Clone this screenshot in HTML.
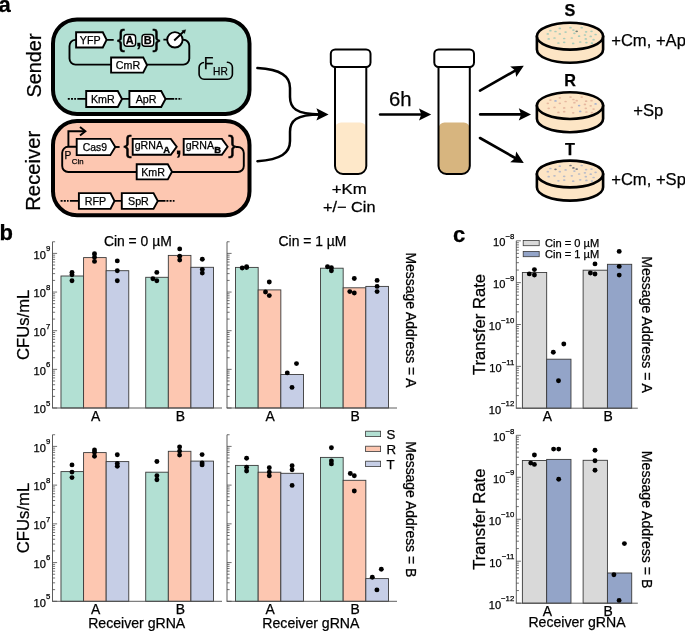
<!DOCTYPE html>
<html><head><meta charset="utf-8"><title>Figure</title>
<style>html,body{margin:0;padding:0;background:#fff}svg{display:block}text{font-family:"Liberation Sans",sans-serif;fill:#000;stroke:#000;stroke-width:.25px}</style>
</head><body>
<svg width="685" height="631" viewBox="0 0 685 631">
<rect width="685" height="631" fill="#fff"/>
<g id="partA">
<text x="-1.5" y="11.5" font-size="22" font-weight="bold">a</text>
<text transform="translate(40.6,97.6) rotate(-90)" font-size="19.9">Sender</text>
<text transform="translate(40.4,210.8) rotate(-90)" font-size="20.3">Receiver</text>
<rect x="53" y="19.4" width="196.5" height="94.5" rx="24" ry="24" fill="#b2e0d3" stroke="#000" stroke-width="4"/>
<rect x="53" y="121.0" width="196.5" height="94.2" rx="24" ry="24" fill="#fdc7b1" stroke="#000" stroke-width="4"/>
<path d="M76,39.9H75.5A6,6 0 0 0 69.5,45.9V58.6A6,6 0 0 0 75.5,64.6H183.3A6,6 0 0 0 189.3,58.6V45.7A6,6 0 0 0 183.3,39.7H182" fill="none" stroke="#000" stroke-width="1.9"/>
<path d="M107,39.9H113.7M163.4,39.6H167.5" stroke="#000" stroke-width="1.9" fill="none"/>
<path d="M76.1,32.25H102.8L106.6,39.85L102.8,47.45H76.1Z" fill="#fff" stroke="#000" stroke-width="1.9" stroke-linejoin="miter"/>
<text x="90.24999999999999" y="43.68" font-size="10.7" text-anchor="middle">YFP</text>
<path d="M111.1,57.45H143.2L147,65.05000000000001L143.2,72.65H111.1Z" fill="#fff" stroke="#000" stroke-width="1.9" stroke-linejoin="miter"/>
<text x="127.94999999999999" y="68.88" font-size="10.7" text-anchor="middle">CmR</text>
<text x="117" y="46.9" font-size="23.5" style="stroke-width:.45px">{</text>
<text x="152.4" y="46.9" font-size="23.5" style="stroke-width:.45px">}</text>
<rect x="123.9" y="34.5" width="11.7" height="11.7" rx="3" fill="#fff" stroke="#000" stroke-width="1.4"/>
<rect x="142.0" y="34.5" width="11.7" height="11.7" rx="3" fill="#fff" stroke="#000" stroke-width="1.4"/>
<text x="129.75" y="44.3" font-size="11" font-weight="bold" text-anchor="middle">A</text>
<text x="147.85" y="44.3" font-size="11" font-weight="bold" text-anchor="middle">B</text>
<text x="136.1" y="46.3" font-size="20" font-weight="bold">,</text>
<circle cx="174.9" cy="39.8" r="7.7" fill="#fff" stroke="#000" stroke-width="1.9"/>
<path d="M174.2,40.5L184,31.3" stroke="#000" stroke-width="1.9" fill="none"/>
<path d="M185.7,29.7L184.6,33.6L181.9,30.7Z" fill="#000" stroke="#000" stroke-width="0.4"/>
<path d="M204,62.5H204.1A5,5 0 0 0 199.1,67.5V74.2A5,5 0 0 0 204.1,79.2H227.4A5,5 0 0 0 232.4,74.2V67.3A5,5 0 0 0 227.4,62.3" fill="none" stroke="#000" stroke-width="1.6" stroke-linecap="round"/>
<text x="203.8" y="68.5" font-size="16">F</text>
<text x="213.1" y="74.5" font-size="10.2">HR</text>
<path d="M67.8,98.9H76" stroke="#000" stroke-width="1.9" stroke-dasharray="2,1.2" fill="none"/>
<path d="M77.3,98.9H86M122,98.9H129M165.5,98.9H174.3" stroke="#000" stroke-width="1.9" fill="none"/>
<path d="M175.2,98.9H182" stroke="#000" stroke-width="1.9" stroke-dasharray="2,1.2" fill="none"/>
<path d="M86.2,91.05H117.8L122,99.05L117.8,107.05H86.2Z" fill="#fff" stroke="#000" stroke-width="1.9" stroke-linejoin="miter"/>
<text x="102.8" y="102.88" font-size="10.7" text-anchor="middle">KmR</text>
<path d="M129.4,91.05H161.2L165.5,99.05L161.2,107.05H129.4Z" fill="#fff" stroke="#000" stroke-width="1.9" stroke-linejoin="miter"/>
<text x="146.10000000000002" y="102.88" font-size="10.7" text-anchor="middle">ApR</text>
<path d="M77,146.8H68.2A6,6 0 0 0 62.2,152.8V166A6,6 0 0 0 68.2,172H237.8A6,6 0 0 0 243.8,166V153A6,6 0 0 0 237.8,147H236" fill="none" stroke="#000" stroke-width="1.9"/>
<path d="M68.4,146.8V131.3H85" fill="none" stroke="#000" stroke-width="1.9"/>
<path d="M80,127L85.4,131.3L80,135.6" fill="none" stroke="#000" stroke-width="1.9"/>
<path d="M115,147H119.6" stroke="#000" stroke-width="1.9"/>
<path d="M76.7,138.85H110.3L115.3,147.0L110.3,155.15H76.7Z" fill="#fff" stroke="#000" stroke-width="1.9" stroke-linejoin="miter"/>
<text x="94.9" y="150.72" font-size="10.4" text-anchor="middle">Cas9</text>
<text x="64.4" y="158.5" font-size="10.2">P</text>
<text x="71.8" y="164.2" font-size="7.8">Cin</text>
<text x="123.5" y="153.1" font-size="24.4" style="stroke-width:.45px">{</text>
<text x="228.3" y="153.1" font-size="24.4" style="stroke-width:.45px">}</text>
<path d="M132.7,138.9H170.8L176.7,146.8L170.8,154.7H132.7Z" fill="#fff" stroke="#000" stroke-width="1.9"/>
<text x="134.7" y="149.2" font-size="10.6">gRNA<tspan font-size="9.4" font-weight="bold" dy="3.3" dx="0.3" style="stroke-width:.4px">A</tspan></text>
<path d="M183.7,138.9H221.9L227.6,146.8L221.9,154.7H183.7Z" fill="#fff" stroke="#000" stroke-width="1.9"/>
<text x="185.7" y="149.2" font-size="10.6">gRNA<tspan font-size="9.4" font-weight="bold" dy="3.3" dx="0.3" style="stroke-width:.4px">B</tspan></text>
<text x="175.4" y="154" font-size="22" font-weight="bold">,</text>
<path d="M136.7,164.25H167.8L172,171.8L167.8,179.35H136.7Z" fill="#fff" stroke="#000" stroke-width="1.9" stroke-linejoin="miter"/>
<text x="153.05" y="175.63" font-size="10.7" text-anchor="middle">KmR</text>
<path d="M60.6,200.9H68.6" stroke="#000" stroke-width="1.9" stroke-dasharray="2,1.2" fill="none"/>
<path d="M69.9,200.9H79M114,200.9H122M158,200.9H165.5" stroke="#000" stroke-width="1.9" fill="none"/>
<path d="M166.4,200.9H174.5" stroke="#000" stroke-width="1.9" stroke-dasharray="2,1.2" fill="none"/>
<path d="M78.9,193.15H110.5L114.5,201.0L110.5,208.85H78.9Z" fill="#fff" stroke="#000" stroke-width="1.9" stroke-linejoin="miter"/>
<text x="95.5" y="204.83" font-size="10.7" text-anchor="middle">RFP</text>
<path d="M121.8,193.15H153.5L157.8,201.0L153.5,208.85H121.8Z" fill="#fff" stroke="#000" stroke-width="1.9" stroke-linejoin="miter"/>
<text x="138.45000000000002" y="204.83" font-size="10.7" text-anchor="middle">SpR</text>
<path d="M257.4,68.1C281,69.5 290,76 290,88V97C290,108 296,114.4 320,114.4" fill="none" stroke="#000" stroke-width="2.5" stroke-linecap="round"/>
<path d="M257.4,161.2C281,159.5 290,153 290,141V132C290,121 296,114.4 320,114.4" fill="none" stroke="#000" stroke-width="2.5" stroke-linecap="round"/>
<path d="M328.6,114.4L316.4,108.3L318.7,114.4L316.4,120.5Z" fill="#000"/>
<path d="M335.0,128.4 a6,6 0 0 1 6,-6 h19.3 a6,6 0 0 1 6,6 V166.0 a8,8 0 0 1 -8,8 h-15.3 a8,8 0 0 1 -8,-8Z" fill="#fee8c9"/>
<path d="M335.0,66.5V166.0a8,8 0 0 0 8,8h15.3a8,8 0 0 0 8,-8V66.5" fill="none" stroke="#000" stroke-width="2"/>
<rect x="330.8" y="49.4" width="39.7" height="17.6" rx="4.4" fill="#fff" stroke="#000" stroke-width="2"/>
<path d="M438.5,128.4 a6,6 0 0 1 6,-6 h19.3 a6,6 0 0 1 6,6 V166.0 a8,8 0 0 1 -8,8 h-15.3 a8,8 0 0 1 -8,-8Z" fill="#d7b57f"/>
<path d="M438.5,66.5V166.0a8,8 0 0 0 8,8h15.3a8,8 0 0 0 8,-8V66.5" fill="none" stroke="#000" stroke-width="2"/>
<rect x="434.3" y="49.4" width="39.7" height="17.6" rx="4.4" fill="#fff" stroke="#000" stroke-width="2"/>
<text transform="translate(349.3,193.7) scale(1.15,1)" font-size="14.6" text-anchor="middle">+Km</text>
<text transform="translate(349.3,212.3) scale(1.115,1)" font-size="14.6" text-anchor="middle">+/− Cin</text>
<text x="388.9" y="105.8" font-size="20.3">6h</text>
<path d="M380.1,114.5H424" stroke="#000" stroke-width="2.6" stroke-linecap="round"/>
<path d="M431.2,114.5L419.0,108.4L421.3,114.5L419.0,120.6Z" fill="#000"/>
<path d="M480,90.6L517,69.6" stroke="#000" stroke-width="2.6" stroke-linecap="round"/>
<path d="M523.8,65.7L510.2,66.4L515.2,70.6L516.2,77.0Z" fill="#000"/>
<path d="M480.2,114.4H524" stroke="#000" stroke-width="2.6" stroke-linecap="round"/>
<path d="M531.0,114.4L518.8,108.3L521.1,114.4L518.8,120.5Z" fill="#000"/>
<path d="M480,138L517,159" stroke="#000" stroke-width="2.6" stroke-linecap="round"/>
<path d="M523.8,162.9L516.2,151.6L515.2,158.0L510.2,162.2Z" fill="#000"/>
<path d="M536.9,36.2V49.400000000000006A33.1,13.4 0 0 0 603.1,49.400000000000006V36.2Z" fill="#fde5c5" stroke="#000" stroke-width="2.6" stroke-linejoin="round"/>
<ellipse cx="570" cy="36.2" rx="33.1" ry="13.4" fill="#fde5c5" stroke="#000" stroke-width="2.6"/>
<ellipse cx="559.8" cy="28.4" rx="1.3" ry="0.85" fill="#a9ccba"/>
<ellipse cx="570.5" cy="27.7" rx="1.3" ry="0.85" fill="#a9ccba"/>
<ellipse cx="581.7" cy="27.7" rx="1.3" ry="0.85" fill="#a9ccba"/>
<ellipse cx="550.4" cy="30.7" rx="1.3" ry="0.85" fill="#a9ccba"/>
<ellipse cx="555.5" cy="31.5" rx="1.3" ry="0.85" fill="#a9ccba"/>
<ellipse cx="565.6" cy="32.1" rx="1.3" ry="0.85" fill="#a9ccba"/>
<ellipse cx="573.4" cy="30.1" rx="1.3" ry="0.85" fill="#a9ccba"/>
<ellipse cx="576.7" cy="31.3" rx="1.3" ry="0.85" fill="#6f8079"/>
<ellipse cx="586.1" cy="31.8" rx="1.3" ry="0.85" fill="#a9ccba"/>
<ellipse cx="591.5" cy="31.3" rx="1.3" ry="0.85" fill="#a9ccba"/>
<ellipse cx="547.8" cy="33.9" rx="1.3" ry="0.85" fill="#a9ccba"/>
<ellipse cx="559.8" cy="33.9" rx="1.3" ry="0.85" fill="#a9ccba"/>
<ellipse cx="574.4" cy="33.3" rx="1.3" ry="0.85" fill="#a9ccba"/>
<ellipse cx="579.1" cy="36.2" rx="1.3" ry="0.85" fill="#a9ccba"/>
<ellipse cx="584.9" cy="35.0" rx="1.3" ry="0.85" fill="#a9ccba"/>
<ellipse cx="590.7" cy="36.4" rx="1.3" ry="0.85" fill="#a9ccba"/>
<ellipse cx="595.6" cy="34.5" rx="1.3" ry="0.85" fill="#a9ccba"/>
<ellipse cx="548.7" cy="38.9" rx="1.3" ry="0.85" fill="#a9ccba"/>
<ellipse cx="554.5" cy="38.0" rx="1.3" ry="0.85" fill="#a9ccba"/>
<ellipse cx="564.2" cy="38.5" rx="1.3" ry="0.85" fill="#a9ccba"/>
<ellipse cx="571.8" cy="38.0" rx="1.3" ry="0.85" fill="#a9ccba"/>
<ellipse cx="585.8" cy="38.9" rx="1.3" ry="0.85" fill="#a9ccba"/>
<ellipse cx="593.6" cy="39.7" rx="1.3" ry="0.85" fill="#a9ccba"/>
<ellipse cx="558.4" cy="43.0" rx="1.3" ry="0.85" fill="#a9ccba"/>
<ellipse cx="564.2" cy="42.3" rx="1.3" ry="0.85" fill="#a9ccba"/>
<ellipse cx="573.2" cy="43.4" rx="1.3" ry="0.85" fill="#a9ccba"/>
<ellipse cx="580.2" cy="42.0" rx="1.3" ry="0.85" fill="#a9ccba"/>
<ellipse cx="586.4" cy="42.6" rx="1.3" ry="0.85" fill="#a9ccba"/>
<ellipse cx="591.9" cy="43.2" rx="1.3" ry="0.85" fill="#a9ccba"/>
<text x="570" y="16.3" font-size="16.2" font-weight="bold" text-anchor="middle">S</text>
<path d="M536.9,105.6V118.8A33.1,13.4 0 0 0 603.1,118.8V105.6Z" fill="#fde5c5" stroke="#000" stroke-width="2.6" stroke-linejoin="round"/>
<ellipse cx="570" cy="105.6" rx="33.1" ry="13.4" fill="#fde5c5" stroke="#000" stroke-width="2.6"/>
<ellipse cx="559.8" cy="97.8" rx="1.3" ry="0.85" fill="#e6b8a0"/>
<ellipse cx="570.5" cy="97.1" rx="1.3" ry="0.85" fill="#e6b8a0"/>
<ellipse cx="581.7" cy="97.1" rx="1.3" ry="0.85" fill="#e6b8a0"/>
<ellipse cx="550.4" cy="100.1" rx="1.3" ry="0.85" fill="#e6b8a0"/>
<ellipse cx="555.5" cy="100.9" rx="1.3" ry="0.85" fill="#a8b2cf"/>
<ellipse cx="565.6" cy="101.5" rx="1.3" ry="0.85" fill="#e6b8a0"/>
<ellipse cx="573.4" cy="99.5" rx="1.3" ry="0.85" fill="#e6b8a0"/>
<ellipse cx="576.7" cy="100.7" rx="1.3" ry="0.85" fill="#e6b8a0"/>
<ellipse cx="586.1" cy="101.2" rx="1.3" ry="0.85" fill="#e6b8a0"/>
<ellipse cx="591.5" cy="100.7" rx="1.3" ry="0.85" fill="#e6b8a0"/>
<ellipse cx="547.8" cy="103.3" rx="1.3" ry="0.85" fill="#e6b8a0"/>
<ellipse cx="559.8" cy="103.3" rx="1.3" ry="0.85" fill="#e6b8a0"/>
<ellipse cx="574.4" cy="102.7" rx="1.3" ry="0.85" fill="#e6b8a0"/>
<ellipse cx="579.1" cy="105.6" rx="1.3" ry="0.85" fill="#a8b2cf"/>
<ellipse cx="584.9" cy="104.4" rx="1.3" ry="0.85" fill="#e6b8a0"/>
<ellipse cx="590.7" cy="105.8" rx="1.3" ry="0.85" fill="#e6b8a0"/>
<ellipse cx="595.6" cy="103.9" rx="1.3" ry="0.85" fill="#a8b2cf"/>
<ellipse cx="548.7" cy="108.3" rx="1.3" ry="0.85" fill="#e6b8a0"/>
<ellipse cx="554.5" cy="107.4" rx="1.3" ry="0.85" fill="#e6b8a0"/>
<ellipse cx="564.2" cy="107.9" rx="1.3" ry="0.85" fill="#e6b8a0"/>
<ellipse cx="571.8" cy="107.4" rx="1.3" ry="0.85" fill="#e6b8a0"/>
<ellipse cx="585.8" cy="108.3" rx="1.3" ry="0.85" fill="#e6b8a0"/>
<ellipse cx="593.6" cy="109.1" rx="1.3" ry="0.85" fill="#e6b8a0"/>
<ellipse cx="558.4" cy="112.4" rx="1.3" ry="0.85" fill="#e6b8a0"/>
<ellipse cx="564.2" cy="111.7" rx="1.3" ry="0.85" fill="#e6b8a0"/>
<ellipse cx="573.2" cy="112.8" rx="1.3" ry="0.85" fill="#e6b8a0"/>
<ellipse cx="580.2" cy="111.4" rx="1.3" ry="0.85" fill="#a8b2cf"/>
<ellipse cx="586.4" cy="112.0" rx="1.3" ry="0.85" fill="#e6b8a0"/>
<ellipse cx="591.9" cy="112.6" rx="1.3" ry="0.85" fill="#e6b8a0"/>
<text x="570" y="85.7" font-size="16.2" font-weight="bold" text-anchor="middle">R</text>
<path d="M536.9,174V187.2A33.1,13.4 0 0 0 603.1,187.2V174Z" fill="#fde5c5" stroke="#000" stroke-width="2.6" stroke-linejoin="round"/>
<ellipse cx="570" cy="174" rx="33.1" ry="13.4" fill="#fde5c5" stroke="#000" stroke-width="2.6"/>
<ellipse cx="559.8" cy="166.2" rx="1.3" ry="0.85" fill="#b8bbc9"/>
<ellipse cx="570.5" cy="165.5" rx="1.3" ry="0.85" fill="#77787f"/>
<ellipse cx="581.7" cy="165.5" rx="1.3" ry="0.85" fill="#b8bbc9"/>
<ellipse cx="550.4" cy="168.5" rx="1.3" ry="0.85" fill="#b8bbc9"/>
<ellipse cx="555.5" cy="169.3" rx="1.3" ry="0.85" fill="#77787f"/>
<ellipse cx="565.6" cy="169.9" rx="1.3" ry="0.85" fill="#b8bbc9"/>
<ellipse cx="573.4" cy="167.9" rx="1.3" ry="0.85" fill="#77787f"/>
<ellipse cx="576.7" cy="169.1" rx="1.3" ry="0.85" fill="#77787f"/>
<ellipse cx="586.1" cy="169.6" rx="1.3" ry="0.85" fill="#b8bbc9"/>
<ellipse cx="591.5" cy="169.1" rx="1.3" ry="0.85" fill="#b8bbc9"/>
<ellipse cx="547.8" cy="171.7" rx="1.3" ry="0.85" fill="#b8bbc9"/>
<ellipse cx="559.8" cy="171.7" rx="1.3" ry="0.85" fill="#b8bbc9"/>
<ellipse cx="574.4" cy="171.1" rx="1.3" ry="0.85" fill="#b8bbc9"/>
<ellipse cx="579.1" cy="174.0" rx="1.3" ry="0.85" fill="#b8bbc9"/>
<ellipse cx="584.9" cy="172.8" rx="1.3" ry="0.85" fill="#b8bbc9"/>
<ellipse cx="590.7" cy="174.2" rx="1.3" ry="0.85" fill="#b8bbc9"/>
<ellipse cx="595.6" cy="172.3" rx="1.3" ry="0.85" fill="#b8bbc9"/>
<ellipse cx="548.7" cy="176.7" rx="1.3" ry="0.85" fill="#b8bbc9"/>
<ellipse cx="554.5" cy="175.8" rx="1.3" ry="0.85" fill="#b8bbc9"/>
<ellipse cx="564.2" cy="176.3" rx="1.3" ry="0.85" fill="#b8bbc9"/>
<ellipse cx="571.8" cy="175.8" rx="1.3" ry="0.85" fill="#b8bbc9"/>
<ellipse cx="585.8" cy="176.7" rx="1.3" ry="0.85" fill="#b8bbc9"/>
<ellipse cx="593.6" cy="177.5" rx="1.3" ry="0.85" fill="#b8bbc9"/>
<ellipse cx="558.4" cy="180.8" rx="1.3" ry="0.85" fill="#b8bbc9"/>
<ellipse cx="564.2" cy="180.1" rx="1.3" ry="0.85" fill="#b8bbc9"/>
<ellipse cx="573.2" cy="181.2" rx="1.3" ry="0.85" fill="#b8bbc9"/>
<ellipse cx="580.2" cy="179.8" rx="1.3" ry="0.85" fill="#b8bbc9"/>
<ellipse cx="586.4" cy="180.4" rx="1.3" ry="0.85" fill="#b8bbc9"/>
<ellipse cx="591.9" cy="181.0" rx="1.3" ry="0.85" fill="#b8bbc9"/>
<text x="570" y="154.5" font-size="16.2" font-weight="bold" text-anchor="middle">T</text>
<text x="611.2" y="45.9" font-size="16.6">+Cm, +Ap</text>
<text x="633.2" y="116.3" font-size="16.6">+Sp</text>
<text x="611.2" y="185.3" font-size="16.6">+Cm, +Sp</text>
</g>
<g id="partB">
<text x="-0.5" y="239.5" font-size="22" font-weight="bold">b</text>
<rect x="60.98" y="276.00" width="22.60" height="132.00" fill="#b2e0d3" stroke="#3a3a3a" stroke-width="0.9"/>
<rect x="83.58" y="257.60" width="22.60" height="150.40" fill="#fdc7b1" stroke="#3a3a3a" stroke-width="0.9"/>
<rect x="106.17" y="270.70" width="22.60" height="137.30" fill="#c6cee6" stroke="#3a3a3a" stroke-width="0.9"/>
<rect x="145.72" y="277.30" width="22.60" height="130.70" fill="#b2e0d3" stroke="#3a3a3a" stroke-width="0.9"/>
<rect x="168.32" y="255.40" width="22.60" height="152.60" fill="#fdc7b1" stroke="#3a3a3a" stroke-width="0.9"/>
<rect x="190.92" y="267.30" width="22.60" height="140.70" fill="#c6cee6" stroke="#3a3a3a" stroke-width="0.9"/>
<circle cx="72.0" cy="272.5" r="2.45" fill="#000"/>
<circle cx="72.0" cy="274.8" r="2.45" fill="#000"/>
<circle cx="72.0" cy="280.7" r="2.45" fill="#000"/>
<circle cx="94.5" cy="253.8" r="2.45" fill="#000"/>
<circle cx="94.5" cy="257.3" r="2.45" fill="#000"/>
<circle cx="94.5" cy="261.4" r="2.45" fill="#000"/>
<circle cx="117.3" cy="260.9" r="2.45" fill="#000"/>
<circle cx="117.3" cy="270.7" r="2.45" fill="#000"/>
<circle cx="117.3" cy="280.7" r="2.45" fill="#000"/>
<circle cx="156.8" cy="272.4" r="2.45" fill="#000"/>
<circle cx="152.9" cy="278.7" r="2.45" fill="#000"/>
<circle cx="156.8" cy="280.8" r="2.45" fill="#000"/>
<circle cx="179.7" cy="248.9" r="2.45" fill="#000"/>
<circle cx="179.7" cy="256.3" r="2.45" fill="#000"/>
<circle cx="179.7" cy="260.1" r="2.45" fill="#000"/>
<circle cx="202.3" cy="259.2" r="2.45" fill="#000"/>
<circle cx="202.3" cy="269.4" r="2.45" fill="#000"/>
<circle cx="202.3" cy="273.1" r="2.45" fill="#000"/>
<path d="M52.05,408.0H222.0" stroke="#4d4d4d" stroke-width="0.9" fill="none"/>
<path d="M52.5,241.77V408.00" stroke="#4d4d4d" stroke-width="0.9" fill="none"/>
<path d="M52.5,408.00h4.6M52.5,396.37h2.6M52.5,389.56h2.6M52.5,384.73h2.6M52.5,380.98h2.6M52.5,377.92h2.6M52.5,375.34h2.6M52.5,373.10h2.6M52.5,371.12h2.6M52.5,369.35h4.6M52.5,357.72h2.6M52.5,350.91h2.6M52.5,346.08h2.6M52.5,342.33h2.6M52.5,339.27h2.6M52.5,336.69h2.6M52.5,334.45h2.6M52.5,332.47h2.6M52.5,330.70h4.6M52.5,319.07h2.6M52.5,312.26h2.6M52.5,307.43h2.6M52.5,303.68h2.6M52.5,300.62h2.6M52.5,298.04h2.6M52.5,295.80h2.6M52.5,293.82h2.6M52.5,292.05h4.6M52.5,280.42h2.6M52.5,273.61h2.6M52.5,268.78h2.6M52.5,265.03h2.6M52.5,261.97h2.6M52.5,259.39h2.6M52.5,257.15h2.6M52.5,255.17h2.6M52.5,253.40h4.6M52.5,241.77h2.6" stroke="#4d4d4d" stroke-width="0.8" fill="none"/>
<text x="50.3" y="413.30" font-size="11.1" text-anchor="end">10<tspan font-size="7.8" dy="-7.4">5</tspan></text>
<text x="50.3" y="374.65" font-size="11.1" text-anchor="end">10<tspan font-size="7.8" dy="-7.4">6</tspan></text>
<text x="50.3" y="336.00" font-size="11.1" text-anchor="end">10<tspan font-size="7.8" dy="-7.4">7</tspan></text>
<text x="50.3" y="297.35" font-size="11.1" text-anchor="end">10<tspan font-size="7.8" dy="-7.4">8</tspan></text>
<text x="50.3" y="258.70" font-size="11.1" text-anchor="end">10<tspan font-size="7.8" dy="-7.4">9</tspan></text>
<text x="95.6" y="421.0" font-size="13.9" text-anchor="middle">A</text>
<text x="180.3" y="421.0" font-size="13.9" text-anchor="middle">B</text>
<text x="137.8" y="246.4" font-size="13.9" text-anchor="middle">Cin = 0 µM</text>
<rect x="235.50" y="267.40" width="22.67" height="140.60" fill="#b2e0d3" stroke="#3a3a3a" stroke-width="0.9"/>
<rect x="258.17" y="289.90" width="22.67" height="118.10" fill="#fdc7b1" stroke="#3a3a3a" stroke-width="0.9"/>
<rect x="280.83" y="374.50" width="22.67" height="33.50" fill="#c6cee6" stroke="#3a3a3a" stroke-width="0.9"/>
<rect x="320.50" y="268.20" width="22.67" height="139.80" fill="#b2e0d3" stroke="#3a3a3a" stroke-width="0.9"/>
<rect x="343.17" y="287.80" width="22.67" height="120.20" fill="#fdc7b1" stroke="#3a3a3a" stroke-width="0.9"/>
<rect x="365.83" y="286.40" width="22.67" height="121.60" fill="#c6cee6" stroke="#3a3a3a" stroke-width="0.9"/>
<circle cx="242.2" cy="268.0" r="2.45" fill="#000"/>
<circle cx="246.6" cy="266.8" r="2.45" fill="#000"/>
<circle cx="246.6" cy="267.6" r="2.45" fill="#000"/>
<circle cx="269.3" cy="282.0" r="2.45" fill="#000"/>
<circle cx="265.5" cy="292.0" r="2.45" fill="#000"/>
<circle cx="269.3" cy="295.6" r="2.45" fill="#000"/>
<circle cx="296.5" cy="363.6" r="2.45" fill="#000"/>
<circle cx="287.3" cy="372.9" r="2.45" fill="#000"/>
<circle cx="292.0" cy="387.4" r="2.45" fill="#000"/>
<circle cx="327.5" cy="266.8" r="2.45" fill="#000"/>
<circle cx="331.4" cy="267.7" r="2.45" fill="#000"/>
<circle cx="331.4" cy="270.8" r="2.45" fill="#000"/>
<circle cx="354.3" cy="278.5" r="2.45" fill="#000"/>
<circle cx="349.8" cy="291.6" r="2.45" fill="#000"/>
<circle cx="354.3" cy="293.0" r="2.45" fill="#000"/>
<circle cx="377.1" cy="280.4" r="2.45" fill="#000"/>
<circle cx="377.1" cy="286.4" r="2.45" fill="#000"/>
<circle cx="377.1" cy="291.6" r="2.45" fill="#000"/>
<path d="M226.55,408.0H397.0" stroke="#4d4d4d" stroke-width="0.9" fill="none"/>
<path d="M227.0,241.77V408.00" stroke="#4d4d4d" stroke-width="0.9" fill="none"/>
<path d="M227.0,408.00h4.6M227.0,396.37h2.6M227.0,389.56h2.6M227.0,384.73h2.6M227.0,380.98h2.6M227.0,377.92h2.6M227.0,375.34h2.6M227.0,373.10h2.6M227.0,371.12h2.6M227.0,369.35h4.6M227.0,357.72h2.6M227.0,350.91h2.6M227.0,346.08h2.6M227.0,342.33h2.6M227.0,339.27h2.6M227.0,336.69h2.6M227.0,334.45h2.6M227.0,332.47h2.6M227.0,330.70h4.6M227.0,319.07h2.6M227.0,312.26h2.6M227.0,307.43h2.6M227.0,303.68h2.6M227.0,300.62h2.6M227.0,298.04h2.6M227.0,295.80h2.6M227.0,293.82h2.6M227.0,292.05h4.6M227.0,280.42h2.6M227.0,273.61h2.6M227.0,268.78h2.6M227.0,265.03h2.6M227.0,261.97h2.6M227.0,259.39h2.6M227.0,257.15h2.6M227.0,255.17h2.6M227.0,253.40h4.6M227.0,241.77h2.6" stroke="#4d4d4d" stroke-width="0.8" fill="none"/>
<text x="270.2" y="421.0" font-size="13.9" text-anchor="middle">A</text>
<text x="355.2" y="421.0" font-size="13.9" text-anchor="middle">B</text>
<text x="312.5" y="246.4" font-size="13.9" text-anchor="middle">Cin = 1 µM</text>
<text transform="translate(29.2,324.9) rotate(-90)" font-size="16.67" text-anchor="middle">CFUs/mL</text>
<rect x="60.98" y="471.60" width="22.60" height="129.70" fill="#b2e0d3" stroke="#3a3a3a" stroke-width="0.9"/>
<rect x="83.58" y="452.60" width="22.60" height="148.70" fill="#fdc7b1" stroke="#3a3a3a" stroke-width="0.9"/>
<rect x="106.17" y="461.60" width="22.60" height="139.70" fill="#c6cee6" stroke="#3a3a3a" stroke-width="0.9"/>
<rect x="145.72" y="472.20" width="22.60" height="129.10" fill="#b2e0d3" stroke="#3a3a3a" stroke-width="0.9"/>
<rect x="168.32" y="451.30" width="22.60" height="150.00" fill="#fdc7b1" stroke="#3a3a3a" stroke-width="0.9"/>
<rect x="190.92" y="461.10" width="22.60" height="140.20" fill="#c6cee6" stroke="#3a3a3a" stroke-width="0.9"/>
<circle cx="72.0" cy="464.9" r="2.45" fill="#000"/>
<circle cx="72.0" cy="472.1" r="2.45" fill="#000"/>
<circle cx="72.0" cy="477.6" r="2.45" fill="#000"/>
<circle cx="94.5" cy="450.0" r="2.45" fill="#000"/>
<circle cx="94.5" cy="452.3" r="2.45" fill="#000"/>
<circle cx="94.5" cy="456.2" r="2.45" fill="#000"/>
<circle cx="117.3" cy="454.8" r="2.45" fill="#000"/>
<circle cx="117.3" cy="463.5" r="2.45" fill="#000"/>
<circle cx="117.3" cy="466.2" r="2.45" fill="#000"/>
<circle cx="156.9" cy="461.5" r="2.45" fill="#000"/>
<circle cx="156.9" cy="475.7" r="2.45" fill="#000"/>
<circle cx="156.9" cy="479.7" r="2.45" fill="#000"/>
<circle cx="179.6" cy="446.9" r="2.45" fill="#000"/>
<circle cx="179.6" cy="451.1" r="2.45" fill="#000"/>
<circle cx="179.6" cy="455.1" r="2.45" fill="#000"/>
<circle cx="202.1" cy="454.6" r="2.45" fill="#000"/>
<circle cx="202.1" cy="463.0" r="2.45" fill="#000"/>
<circle cx="202.1" cy="464.9" r="2.45" fill="#000"/>
<path d="M52.05,601.3H222.0" stroke="#4d4d4d" stroke-width="0.9" fill="none"/>
<path d="M52.5,434.74V601.30" stroke="#4d4d4d" stroke-width="0.9" fill="none"/>
<path d="M52.5,601.30h4.6M52.5,589.64h2.6M52.5,582.82h2.6M52.5,577.99h2.6M52.5,574.23h2.6M52.5,571.17h2.6M52.5,568.57h2.6M52.5,566.33h2.6M52.5,564.35h2.6M52.5,562.57h4.6M52.5,550.92h2.6M52.5,544.10h2.6M52.5,539.26h2.6M52.5,535.51h2.6M52.5,532.44h2.6M52.5,529.85h2.6M52.5,527.60h2.6M52.5,525.62h2.6M52.5,523.85h4.6M52.5,512.19h2.6M52.5,505.37h2.6M52.5,500.54h2.6M52.5,496.78h2.6M52.5,493.72h2.6M52.5,491.12h2.6M52.5,488.88h2.6M52.5,486.90h2.6M52.5,485.12h4.6M52.5,473.47h2.6M52.5,466.65h2.6M52.5,461.81h2.6M52.5,458.06h2.6M52.5,454.99h2.6M52.5,452.40h2.6M52.5,450.15h2.6M52.5,448.17h2.6M52.5,446.40h4.6M52.5,434.74h2.6" stroke="#4d4d4d" stroke-width="0.8" fill="none"/>
<text x="50.3" y="606.60" font-size="11.1" text-anchor="end">10<tspan font-size="7.8" dy="-7.4">5</tspan></text>
<text x="50.3" y="567.87" font-size="11.1" text-anchor="end">10<tspan font-size="7.8" dy="-7.4">6</tspan></text>
<text x="50.3" y="529.15" font-size="11.1" text-anchor="end">10<tspan font-size="7.8" dy="-7.4">7</tspan></text>
<text x="50.3" y="490.43" font-size="11.1" text-anchor="end">10<tspan font-size="7.8" dy="-7.4">8</tspan></text>
<text x="50.3" y="451.70" font-size="11.1" text-anchor="end">10<tspan font-size="7.8" dy="-7.4">9</tspan></text>
<text x="95.6" y="614.3" font-size="13.9" text-anchor="middle">A</text>
<text x="180.3" y="614.3" font-size="13.9" text-anchor="middle">B</text>
<text x="136.7" y="628" font-size="14.1" text-anchor="middle">Receiver gRNA</text>
<rect x="235.50" y="465.40" width="22.67" height="135.90" fill="#b2e0d3" stroke="#3a3a3a" stroke-width="0.9"/>
<rect x="258.17" y="472.20" width="22.67" height="129.10" fill="#fdc7b1" stroke="#3a3a3a" stroke-width="0.9"/>
<rect x="280.83" y="473.30" width="22.67" height="128.00" fill="#c6cee6" stroke="#3a3a3a" stroke-width="0.9"/>
<rect x="320.50" y="457.40" width="22.67" height="143.90" fill="#b2e0d3" stroke="#3a3a3a" stroke-width="0.9"/>
<rect x="343.17" y="480.30" width="22.67" height="121.00" fill="#fdc7b1" stroke="#3a3a3a" stroke-width="0.9"/>
<rect x="365.83" y="578.60" width="22.67" height="22.70" fill="#c6cee6" stroke="#3a3a3a" stroke-width="0.9"/>
<circle cx="246.6" cy="458.3" r="2.45" fill="#000"/>
<circle cx="246.6" cy="467.2" r="2.45" fill="#000"/>
<circle cx="246.6" cy="471.0" r="2.45" fill="#000"/>
<circle cx="269.3" cy="467.8" r="2.45" fill="#000"/>
<circle cx="269.3" cy="472.1" r="2.45" fill="#000"/>
<circle cx="269.3" cy="475.7" r="2.45" fill="#000"/>
<circle cx="292.1" cy="465.7" r="2.45" fill="#000"/>
<circle cx="292.1" cy="469.7" r="2.45" fill="#000"/>
<circle cx="292.1" cy="485.4" r="2.45" fill="#000"/>
<circle cx="331.4" cy="447.8" r="2.45" fill="#000"/>
<circle cx="331.4" cy="460.9" r="2.45" fill="#000"/>
<circle cx="331.4" cy="463.9" r="2.45" fill="#000"/>
<circle cx="350.3" cy="473.5" r="2.45" fill="#000"/>
<circle cx="354.3" cy="475.8" r="2.45" fill="#000"/>
<circle cx="354.3" cy="491.0" r="2.45" fill="#000"/>
<circle cx="381.3" cy="569.3" r="2.45" fill="#000"/>
<circle cx="372.3" cy="577.2" r="2.45" fill="#000"/>
<circle cx="376.9" cy="589.9" r="2.45" fill="#000"/>
<path d="M226.55,601.3H397.0" stroke="#4d4d4d" stroke-width="0.9" fill="none"/>
<path d="M227.0,434.74V601.30" stroke="#4d4d4d" stroke-width="0.9" fill="none"/>
<path d="M227.0,601.30h4.6M227.0,589.64h2.6M227.0,582.82h2.6M227.0,577.99h2.6M227.0,574.23h2.6M227.0,571.17h2.6M227.0,568.57h2.6M227.0,566.33h2.6M227.0,564.35h2.6M227.0,562.57h4.6M227.0,550.92h2.6M227.0,544.10h2.6M227.0,539.26h2.6M227.0,535.51h2.6M227.0,532.44h2.6M227.0,529.85h2.6M227.0,527.60h2.6M227.0,525.62h2.6M227.0,523.85h4.6M227.0,512.19h2.6M227.0,505.37h2.6M227.0,500.54h2.6M227.0,496.78h2.6M227.0,493.72h2.6M227.0,491.12h2.6M227.0,488.88h2.6M227.0,486.90h2.6M227.0,485.12h4.6M227.0,473.47h2.6M227.0,466.65h2.6M227.0,461.81h2.6M227.0,458.06h2.6M227.0,454.99h2.6M227.0,452.40h2.6M227.0,450.15h2.6M227.0,448.17h2.6M227.0,446.40h4.6M227.0,434.74h2.6" stroke="#4d4d4d" stroke-width="0.8" fill="none"/>
<text x="270.2" y="614.3" font-size="13.9" text-anchor="middle">A</text>
<text x="355.2" y="614.3" font-size="13.9" text-anchor="middle">B</text>
<text x="310.9" y="628" font-size="14.1" text-anchor="middle">Receiver gRNA</text>
<text transform="translate(29.2,518.0) rotate(-90)" font-size="16.67" text-anchor="middle">CFUs/mL</text>
<text transform="translate(406.2,252.4) rotate(90)" font-size="13.95">Message Address = A</text>
<text transform="translate(406.2,441.3) rotate(90)" font-size="13.95">Message Address = B</text>
<rect x="365.6" y="431.2" width="15" height="5.4" fill="#b2e0d3" stroke="#3a3a3a" stroke-width="0.8"/>
<text x="386.6" y="438.7" font-size="13.3">S</text>
<rect x="365.6" y="446.2" width="15" height="5.4" fill="#fdc7b1" stroke="#3a3a3a" stroke-width="0.8"/>
<text x="386.6" y="453.7" font-size="13.3">R</text>
<rect x="365.6" y="461.2" width="15" height="5.4" fill="#c6cee6" stroke="#3a3a3a" stroke-width="0.8"/>
<text x="386.6" y="468.7" font-size="13.3">T</text>
</g>
<g id="partC">
<text x="453.1" y="242.1" font-size="22" font-weight="bold">c</text>
<rect x="522.38" y="272.50" width="24.30" height="135.70" fill="#d9d9d9" stroke="#3a3a3a" stroke-width="0.9"/>
<rect x="546.67" y="359.20" width="24.30" height="49.00" fill="#93a4c8" stroke="#3a3a3a" stroke-width="0.9"/>
<rect x="583.12" y="270.20" width="24.30" height="138.00" fill="#d9d9d9" stroke="#3a3a3a" stroke-width="0.9"/>
<rect x="607.42" y="264.30" width="24.30" height="143.90" fill="#93a4c8" stroke="#3a3a3a" stroke-width="0.9"/>
<circle cx="529.3" cy="273.9" r="2.45" fill="#000"/>
<circle cx="534.4" cy="269.6" r="2.45" fill="#000"/>
<circle cx="534.4" cy="275.0" r="2.45" fill="#000"/>
<circle cx="563.8" cy="344.0" r="2.45" fill="#000"/>
<circle cx="553.3" cy="352.2" r="2.45" fill="#000"/>
<circle cx="558.5" cy="380.8" r="2.45" fill="#000"/>
<circle cx="595.0" cy="263.9" r="2.45" fill="#000"/>
<circle cx="590.4" cy="273.0" r="2.45" fill="#000"/>
<circle cx="595.0" cy="274.0" r="2.45" fill="#000"/>
<circle cx="619.2" cy="251.4" r="2.45" fill="#000"/>
<circle cx="619.2" cy="266.4" r="2.45" fill="#000"/>
<circle cx="619.2" cy="275.1" r="2.45" fill="#000"/>
<path d="M515.8499999999999,408.2H637.8" stroke="#4d4d4d" stroke-width="0.9" fill="none"/>
<path d="M516.3,240.80V408.20" stroke="#4d4d4d" stroke-width="0.9" fill="none"/>
<path d="M516.3,408.20h4.6M516.3,395.60h2.6M516.3,388.23h2.6M516.3,383.00h2.6M516.3,378.95h2.6M516.3,375.63h2.6M516.3,372.83h2.6M516.3,370.41h2.6M516.3,368.26h2.6M516.3,366.35h4.6M516.3,353.75h2.6M516.3,346.38h2.6M516.3,341.15h2.6M516.3,337.10h2.6M516.3,333.78h2.6M516.3,330.98h2.6M516.3,328.56h2.6M516.3,326.41h2.6M516.3,324.50h4.6M516.3,311.90h2.6M516.3,304.53h2.6M516.3,299.30h2.6M516.3,295.25h2.6M516.3,291.93h2.6M516.3,289.13h2.6M516.3,286.71h2.6M516.3,284.56h2.6M516.3,282.65h4.6M516.3,270.05h2.6M516.3,262.68h2.6M516.3,257.45h2.6M516.3,253.40h2.6M516.3,250.08h2.6M516.3,247.28h2.6M516.3,244.86h2.6M516.3,242.71h2.6M516.3,240.80h4.6" stroke="#4d4d4d" stroke-width="0.8" fill="none"/>
<text x="514.3" y="413.80" font-size="11.1" text-anchor="end">10<tspan font-size="7.8" dy="-7.4">−12</tspan></text>
<text x="514.3" y="371.95" font-size="11.1" text-anchor="end">10<tspan font-size="7.8" dy="-7.4">−11</tspan></text>
<text x="514.3" y="330.10" font-size="11.1" text-anchor="end">10<tspan font-size="7.8" dy="-7.4">−10</tspan></text>
<text x="514.3" y="288.25" font-size="11.1" text-anchor="end">10<tspan font-size="7.8" dy="-7.4">−9</tspan></text>
<text x="514.3" y="246.40" font-size="11.1" text-anchor="end">10<tspan font-size="7.8" dy="-7.4">−8</tspan></text>
<text x="547.4" y="420.7" font-size="13.9" text-anchor="middle">A</text>
<text x="608.1" y="420.7" font-size="13.9" text-anchor="middle">B</text>
<text transform="translate(484.5,324.5) rotate(-90)" font-size="16.67" text-anchor="middle">Transfer Rate</text>
<rect x="522.38" y="460.50" width="24.30" height="142.70" fill="#d9d9d9" stroke="#3a3a3a" stroke-width="0.9"/>
<rect x="546.67" y="459.40" width="24.30" height="143.80" fill="#93a4c8" stroke="#3a3a3a" stroke-width="0.9"/>
<rect x="583.12" y="460.30" width="24.30" height="142.90" fill="#d9d9d9" stroke="#3a3a3a" stroke-width="0.9"/>
<rect x="607.42" y="573.00" width="24.30" height="30.20" fill="#93a4c8" stroke="#3a3a3a" stroke-width="0.9"/>
<circle cx="534.4" cy="455.0" r="2.45" fill="#000"/>
<circle cx="530.7" cy="463.1" r="2.45" fill="#000"/>
<circle cx="534.4" cy="464.4" r="2.45" fill="#000"/>
<circle cx="553.6" cy="449.1" r="2.45" fill="#000"/>
<circle cx="558.7" cy="449.1" r="2.45" fill="#000"/>
<circle cx="558.7" cy="479.3" r="2.45" fill="#000"/>
<circle cx="595.0" cy="450.2" r="2.45" fill="#000"/>
<circle cx="595.0" cy="460.7" r="2.45" fill="#000"/>
<circle cx="595.0" cy="470.3" r="2.45" fill="#000"/>
<circle cx="624.4" cy="543.6" r="2.45" fill="#000"/>
<circle cx="613.9" cy="574.7" r="2.45" fill="#000"/>
<circle cx="619.1" cy="600.4" r="2.45" fill="#000"/>
<path d="M515.8499999999999,603.2H637.8" stroke="#4d4d4d" stroke-width="0.9" fill="none"/>
<path d="M516.3,435.30V603.20" stroke="#4d4d4d" stroke-width="0.9" fill="none"/>
<path d="M516.3,603.20h4.6M516.3,590.56h2.6M516.3,583.17h2.6M516.3,577.93h2.6M516.3,573.86h2.6M516.3,570.54h2.6M516.3,567.73h2.6M516.3,565.29h2.6M516.3,563.15h2.6M516.3,561.23h4.6M516.3,548.59h2.6M516.3,541.20h2.6M516.3,535.95h2.6M516.3,531.89h2.6M516.3,528.56h2.6M516.3,525.75h2.6M516.3,523.32h2.6M516.3,521.17h2.6M516.3,519.25h4.6M516.3,506.61h2.6M516.3,499.22h2.6M516.3,493.98h2.6M516.3,489.91h2.6M516.3,486.59h2.6M516.3,483.78h2.6M516.3,481.34h2.6M516.3,479.20h2.6M516.3,477.28h4.6M516.3,464.64h2.6M516.3,457.25h2.6M516.3,452.00h2.6M516.3,447.94h2.6M516.3,444.61h2.6M516.3,441.80h2.6M516.3,439.37h2.6M516.3,437.22h2.6M516.3,435.30h4.6" stroke="#4d4d4d" stroke-width="0.8" fill="none"/>
<text x="514.3" y="608.80" font-size="11.1" text-anchor="end">10<tspan font-size="7.8" dy="-7.4">−12</tspan></text>
<text x="514.3" y="566.83" font-size="11.1" text-anchor="end">10<tspan font-size="7.8" dy="-7.4">−11</tspan></text>
<text x="514.3" y="524.85" font-size="11.1" text-anchor="end">10<tspan font-size="7.8" dy="-7.4">−10</tspan></text>
<text x="514.3" y="482.88" font-size="11.1" text-anchor="end">10<tspan font-size="7.8" dy="-7.4">−9</tspan></text>
<text x="514.3" y="440.90" font-size="11.1" text-anchor="end">10<tspan font-size="7.8" dy="-7.4">−8</tspan></text>
<text x="547.4" y="615.7" font-size="13.9" text-anchor="middle">A</text>
<text x="608.1" y="615.7" font-size="13.9" text-anchor="middle">B</text>
<text transform="translate(484.5,519.2) rotate(-90)" font-size="16.67" text-anchor="middle">Transfer Rate</text>
<text x="577.0" y="626.7" font-size="14.1" text-anchor="middle">Receiver gRNA</text>
<text transform="translate(642.3,256.2) rotate(90)" font-size="14.1">Message Address = A</text>
<text transform="translate(641.5,450.8) rotate(90)" font-size="14.1">Message Address = B</text>
<rect x="523.2" y="240.4" width="16" height="5.3" fill="#d9d9d9" stroke="#3a3a3a" stroke-width="0.8"/>
<text x="545" y="246.7" font-size="11.1">Cin = 0 µM</text>
<rect x="523.2" y="251.4" width="16" height="5.3" fill="#93a4c8" stroke="#3a3a3a" stroke-width="0.8"/>
<text x="545" y="257.7" font-size="11.1">Cin = 1 µM</text>
</g>
</svg>
</body></html>
